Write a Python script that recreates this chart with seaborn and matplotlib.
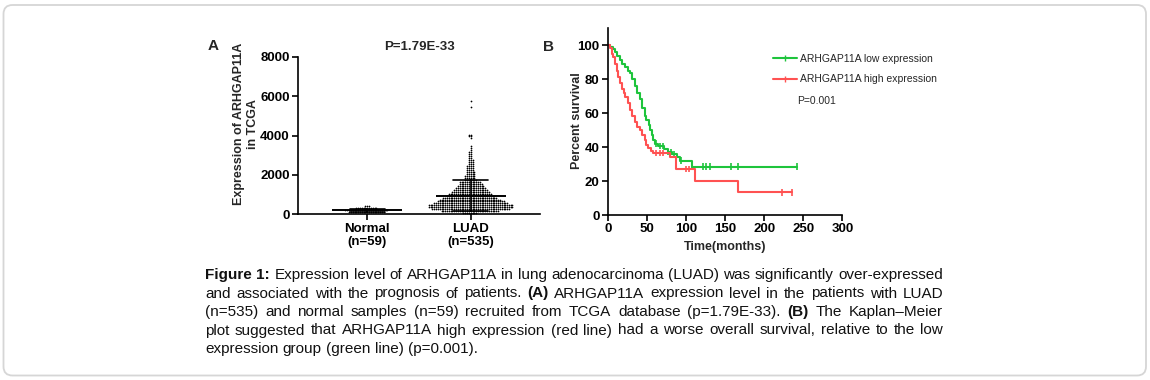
import numpy as np
import pandas as pd
import matplotlib
matplotlib.use('Agg')
import matplotlib.pyplot as plt
import seaborn as sns
from matplotlib.lines import Line2D
from matplotlib.patches import FancyBboxPatch
from matplotlib.transforms import IdentityTransform

# ---- panel A: expression values, as (level, count) rows
groups = ['Normal', 'LUAD']
group_labels = ['Normal\n(n=59)', 'LUAD\n(n=535)']
normal_levels = [100, 200, 300, 400]
normal_counts = [20, 24, 12, 3]
luad_levels = [50, 150, 250, 350, 450, 550, 650, 750, 850, 950, 1050, 1150, 1250,
               1350, 1450, 1550, 1650,
               1750, 1850, 1950, 2050, 2150, 2250, 2350, 2450, 2550, 2650, 2750,
               2850, 2950, 3050, 3150, 3250, 3350, 3450,
               3850, 3950, 4050, 5450, 5750]
luad_counts = [8, 32, 43, 47, 47, 41, 37, 34, 30, 27, 24, 21, 19,
               17, 15, 13, 12,
               7, 6, 6, 5, 5, 4, 4, 4, 3, 3, 3,
               2, 2, 2, 2, 1, 1, 1,
               1, 2, 2, 1, 1]

# ---- panel B: Kaplan-Meier steps (months, percent survival) and censor times
low_time = [0, 3, 6, 9, 12, 15, 18, 22, 25, 28, 31, 34, 37, 41, 44, 47, 49, 52, 54,
            56, 58, 60, 64, 72, 77, 82, 88, 92, 107, 242]
low_surv = [100, 99, 97.5, 96, 93.5, 91, 89, 87, 85, 83.5, 80, 76, 72, 68, 63, 58, 56,
            53, 50, 47, 44, 42, 40.6, 39, 37, 36, 34, 32, 28.5, 28.5]
high_time = [0, 3, 5, 7, 9, 11, 13, 15, 18, 20, 22, 25, 28, 31, 34, 37, 41, 44, 47, 49,
             51, 55, 58, 80, 87, 112, 166, 235]
high_surv = [100, 98, 95, 93, 89, 85, 81, 77.5, 74, 71.5, 69.5, 66, 62, 58, 55, 52, 50,
             47, 44, 41, 39.5, 37.5, 36.5, 34, 27, 20, 13.3, 13.3]
low_censor = [62, 66, 70, 77, 81, 85, 94, 108, 122, 126, 131, 158, 167, 242]
high_censor = [62, 66, 70, 100, 104, 223, 235]
km_names = ['ARHGAP11A low expression', 'ARHGAP11A high expression']
km_colors = ['#1ec43c', '#ff5252']

caption_lines = [
    'Figure 1: Expression level of ARHGAP11A in lung adenocarcinoma (LUAD) was significantly over-expressed',
    'and associated with the prognosis of patients. (A) ARHGAP11A expression level in the patients with LUAD',
    '(n=535) and normal samples (n=59) recruited from TCGA database (p=1.79E-33). (B) The Kaplan\u2013Meier',
    'plot suggested that ARHGAP11A high expression (red line) had a worse overall survival, relative to the low',
    'expression group (green line) (p=0.001).',
]
bold_words = {'Figure', '1:', '(A)', '(B)'}

sns.set_theme(style='ticks')
plt.rcParams['font.family'] = ['Liberation Sans', 'DejaVu Sans']

W, H = 1150, 380
fig = plt.figure(figsize=(W / 100, H / 100), dpi=100)
fig.patch.set_facecolor('white')


def box(l, t, r, b):
    return [l / W, 1 - b / H, (r - l) / W, (b - t) / H]


def style_axes(ax):
    sns.despine(ax=ax)
    for s in ['left', 'bottom']:
        ax.spines[s].set_linewidth(1.2)
        ax.spines[s].set_color('black')
    ax.tick_params(width=1.2, length=4, color='black', labelsize=9.5, pad=2,
                   labelcolor='black')
    for lab in ax.get_xticklabels() + ax.get_yticklabels():
        lab.set_fontweight('bold')


# ---- panel A
df_a = pd.DataFrame({
    'group': ['Normal'] * sum(normal_counts) + ['LUAD'] * sum(luad_counts),
    'value': np.concatenate([np.repeat(normal_levels, normal_counts),
                             np.repeat(luad_levels, luad_counts)]),
})
ax1 = fig.add_axes(box(298, 56.7, 540, 214.3))
sns.swarmplot(data=df_a, x='group', y='value', order=groups, color='black',
              size=1.25, ax=ax1, zorder=2)
sns.pointplot(data=df_a, x='group', y='value', order=groups, errorbar='sd',
              capsize=0.34, color='black', markers='_', markersize=50,
              markeredgewidth=1.4, linestyle='none', err_kws={'linewidth': 1.2},
              ax=ax1)
ax1.set_xlim(-0.67, 1.67)
ax1.set_ylim(0, 8000)
ax1.set_yticks(range(0, 8001, 2000))
ax1.set_xticks([0, 1])
ax1.set_xticklabels(group_labels)
ax1.set_xlabel('')
ax1.set_ylabel('')
ax1.set_title('P=1.79E-33', fontsize=9.5, fontweight='bold', pad=5)
style_axes(ax1)
fig.text(246 / W, 1 - 124 / H, 'Expression of ARHGAP11A\nin TCGA', rotation=90,
         ha='center', va='center', fontsize=9, fontweight='bold', linespacing=1.3)

# ---- panel B
km = pd.concat([
    pd.DataFrame({'time': low_time, 'surv': low_surv, 'group': km_names[0]}),
    pd.DataFrame({'time': high_time, 'surv': high_surv, 'group': km_names[1]}),
])
cens = []
for name, t, s, c in [(km_names[0], low_time, low_surv, low_censor),
                      (km_names[1], high_time, high_surv, high_censor)]:
    idx = np.searchsorted(t, c, side='right') - 1
    cens.append(pd.DataFrame({'time': c, 'surv': np.array(s)[idx], 'group': name}))
cens = pd.concat(cens)
pal = dict(zip(km_names, km_colors))

ax2 = fig.add_axes(box(608, 28, 842.3, 215))
sns.lineplot(data=km, x='time', y='surv', hue='group', palette=pal,
             drawstyle='steps-post', estimator=None, sort=False, lw=1.5,
             legend=False, ax=ax2)
sns.scatterplot(data=cens, x='time', y='surv', hue='group', palette=pal,
                marker='|', s=22, linewidth=1.2, legend=False, ax=ax2)
ax2.set_xlim(0, 300)
ax2.set_ylim(0, 110)
ax2.set_xticks(range(0, 301, 50))
ax2.set_yticks(range(0, 101, 20))
ax2.set_xlabel('')
ax2.set_ylabel('')
style_axes(ax2)
fig.text(577 / W, 1 - 121 / H, 'Percent survival', rotation=90, ha='center',
         va='center', fontsize=9, fontweight='bold')
fig.text(725 / W, 1 - 247 / H, 'Time(months)', ha='center', va='center',
         fontsize=9, fontweight='bold')
handles = [Line2D([], [], color=c, lw=1.5, marker='|', markersize=5) for c in km_colors]
ax2.legend(handles, km_names, loc='upper left', bbox_to_anchor=(0.704, 0.862),
           frameon=False, fontsize=7.5, handlelength=2.3, handletextpad=0.3,
           borderaxespad=0, borderpad=0, labelspacing=1.0, numpoints=1)
fig.text(797 / W, 1 - 101 / H, 'P=0.001', fontsize=7.5, va='center')

# panel letters
fig.text(213 / W, 1 - 46 / H, 'A', fontsize=11, fontweight='bold', ha='center', va='center')
fig.text(548 / W, 1 - 47 / H, 'B', fontsize=11, fontweight='bold', ha='center', va='center')

# ---- caption, justified between two edges
cap_font = ['Liberation Sans Narrow', 'Liberation Sans', 'DejaVu Sans']
cap_size = 11
x0, x1 = 205, 943
renderer = fig.canvas.get_renderer()


def measure(s, weight='normal'):
    t = fig.text(0, 0, s, fontsize=cap_size, family=cap_font, fontweight=weight)
    w = t.get_window_extent(renderer).width
    t.remove()
    return w


space_w = measure('a a') - measure('aa')
for i, line in enumerate(caption_lines):
    words = line.split(' ')
    y = 1 - (279 + i * 18.5) / H
    texts = [fig.text(0, y, w, fontsize=cap_size, family=cap_font, va='baseline',
                      fontweight='bold' if w in bold_words else 'normal', color='#111111')
             for w in words]
    widths = [t.get_window_extent(renderer).width for t in texts]
    last = i == len(caption_lines) - 1
    gap = space_w if last else (x1 - x0 - sum(widths)) / (len(words) - 1)
    x = x0
    for t, w in zip(texts, widths):
        t.set_x(x / W)
        x += w + gap

# rounded frame round the whole figure
frame = FancyBboxPatch((3.5, 4.5), 1142.5, 370.5, boxstyle='round,pad=0,rounding_size=9',
                       transform=IdentityTransform(), fill=False, ec='#d6d6d6', lw=1.3)
fig.add_artist(frame)

fig.savefig('out.png', dpi=100, facecolor='white')
